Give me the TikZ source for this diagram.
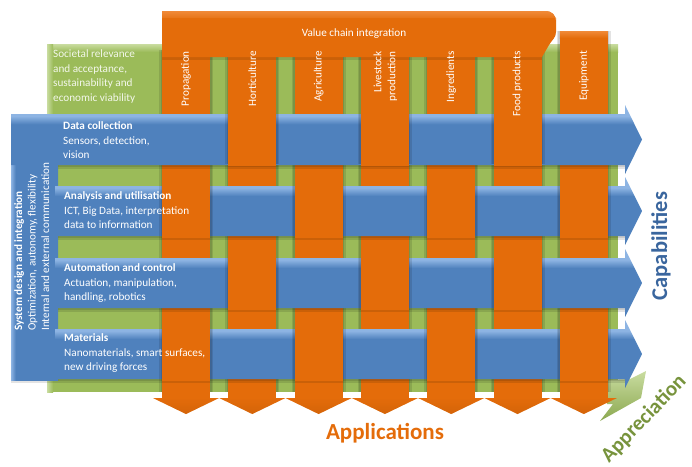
\documentclass[tikz,border=0pt]{standalone}
\usepackage{fontspec}
\setmainfont{Carlito}
\definecolor{orng}{HTML}{E46C0A}
\definecolor{orngL}{HTML}{F08A38}
\definecolor{blu}{HTML}{4F81BD}
\definecolor{bluL}{HTML}{8DB4E3}
\definecolor{bluD}{HTML}{3F6DA6}
\definecolor{grn}{HTML}{9BBB59}
\definecolor{grnL}{HTML}{C9DCA0}
\definecolor{capblue}{HTML}{3A669E}
\definecolor{appgreen}{HTML}{77933C}
\pgfdeclareverticalshading{rowshade}{100bp}{color(0bp)=(bluD); color(25bp)=(bluD); color(28bp)=(blu); color(61bp)=(blu); color(67bp)=(bluL); color(75bp)=(bluL); color(100bp)=(bluL)}
\pgfdeclarehorizontalshading{boxshade}{100bp}{color(0bp)=(bluL); color(25bp)=(bluL); color(30bp)=(blu); color(75bp)=(blu); color(100bp)=(blu)}
\tikzset{
  rowbar/.style={shading=rowshade},
  softshadow/.style={fill=black, opacity=0.11},
  wtext/.style={text=white, inner sep=0pt, align=left, font=\fontsize{11.2}{14.5}\selectfont},
  coltext/.style={text=white, inner sep=0pt, rotate=90, anchor=east, align=right, font=\fontsize{11.2}{14}\selectfont},
}
\begin{document}
\begin{tikzpicture}[x=1pt,y=-1pt]
\useasboundingbox (0,0) rectangle (692,466);

% green background slab with its bevelled top
\fill[grn] (47,44) rectangle (618,392);
\shade[top color=grnL, bottom color=grn] (47,44) rectangle (618,52);
\shade[left color=grnL, right color=grn] (47,44) rectangle (53,392);

% green arrow head at the lower right corner
\shade[top color=grnL, bottom color=grn!90!black]
  (607,380) -- (630,379) -- (646,371) -- (641,398) -- (600,421) -- (613,404) -- (607,404) -- cycle;

% orange application columns with their arrow heads and soft side shadows
\foreach \i in {0,...,6}{
  \pgfmathsetmacro{\cx}{162+66.3*\i}
  \pgfmathsetmacro{\ctop}{ifthenelse(\i==6,31,50)}
  \fill[softshadow] ({\cx-3},\ctop) rectangle ({\cx+51},392);
  \fill[softshadow] ({\cx-1.5},\ctop) rectangle ({\cx+49.5},392);
  \fill[orng] (\cx,\ctop) rectangle ({\cx+48},398);
  \fill[orng] ({\cx-9},398) -- ({\cx+57},398) -- ({\cx+24},414) -- cycle;
  \shade[top color=orng, bottom color=orng!80!black, opacity=0.35]
    ({\cx-9},398) -- ({\cx+57},398) -- ({\cx+24},414) -- cycle;
}
\shade[top color=orngL, bottom color=orng] (559.8,31) rectangle (607.8,38);

% value chain integration bar
\fill[softshadow] (162,57) rectangle (542,60);
\fill[orng] (162,11) -- (546,11) to[out=0,in=90] (556,21) -- (556,32)
  to[out=-90,in=60] (549,45) -- (542,57) -- (162,57) -- cycle;
\shade[top color=orngL, bottom color=orng] (162,11) -- (546,11) to[out=0,in=90] (556,21)
  -- (556,18) -- (162,18) -- cycle;

% system design box on the left
\fill[softshadow] (11,380) rectangle (58,383);
\path[shading=boxshade] (11,114) rectangle (58,380);

% capability rows (blue arrows) with soft shadows below
\fill[softshadow] (58,165) rectangle (625,168.5);
\fill[softshadow] (58,165) rectangle (625,166.8);
\path[rowbar] (11,114) -- (625,114) -- (625,105) -- (642,139.5) -- (625,174) -- (625,165) -- (11,165) -- cycle;
\foreach \ry in {186,258,329}{
  \fill[softshadow] (58,{\ry+50}) rectangle (625,{\ry+53.5});
  \fill[softshadow] (58,{\ry+50}) rectangle (625,{\ry+51.8});
  \path[rowbar] (55,\ry) -- (625,\ry) -- (625,{\ry-9}) -- (642,{\ry+25}) -- (625,{\ry+59}) -- (625,{\ry+50}) -- (55,{\ry+50}) -- cycle;
}

% weave: columns passing over the rows
\foreach \ry/\cl in {114/{1,3,5}, 186/{0,2,4,6}, 258/{1,3,5}, 329/{0,2,4,6}}{
  \foreach \c in \cl{
    \fill[softshadow] ({162+66.3*\c-3},\ry) rectangle ++(54,50);
    \fill[softshadow] ({162+66.3*\c-1.5},\ry) rectangle ++(51,50);
    \fill[orng] ({162+66.3*\c},{\ry-2}) rectangle ++(48,54);
  }
}

% texts
\node[wtext, anchor=north west, text=white!88!grn] (soc) at (53,50)
  {Societal relevance\\and acceptance,\\sustainability and\\economic viability};
\node[text=white, inner sep=0pt, font=\fontsize{11.2}{13}\selectfont] (vci) at (354,34) {Value chain integration};

\node[coltext] (c1) at (186,51) {Propagation};
\node[coltext] (c2) at (252.3,51) {Horticulture};
\node[coltext] (c3) at (318.6,51) {Agriculture};
\node[coltext] (c4) at (385.4,51) {Livestock\\production};
\node[coltext] (c5) at (451.2,51) {Ingredients};
\node[coltext] (c6) at (517.5,51) {Food products};
\node[coltext] (c7) at (583.8,51) {Equipment};

\node[wtext, anchor=north west] (r1) at (63,121.5) {\textbf{Data collection}\\Sensors, detection,\\vision};
\node[wtext, anchor=north west] (r2) at (64,191.5) {\textbf{Analysis and utilisation}\\ICT, Big Data, interpretation\\data to information};
\node[wtext, anchor=north west] (r3) at (64,263.5) {\textbf{Automation and control}\\Actuation, manipulation,\\handling, robotics};
\node[wtext, anchor=north west] (r4) at (64,333.5) {\textbf{Materials}\\Nanomaterials, smart surfaces,\\new driving forces};

\node[text=white, inner sep=0pt, rotate=90, anchor=north west, align=left,
      font=\fontsize{11.2}{13.5}\selectfont] (sys) at (14,331)
  {\textbf{System design and integration}\\Optimization, autonomy, flexibility\\Internal and external communication};

\node[text=capblue, font=\fontsize{22.5}{26}\selectfont\bfseries, rotate=90] (cap) at (661,246) {Capabilities};
\node[text=orng, font=\fontsize{23}{26}\selectfont\bfseries] (app) at (385,433) {Applications};
\node[text=appgreen, font=\fontsize{21}{24}\selectfont\bfseries, rotate=46] (apr) at (644,419) {Appreciation};
\end{tikzpicture}
\end{document}
